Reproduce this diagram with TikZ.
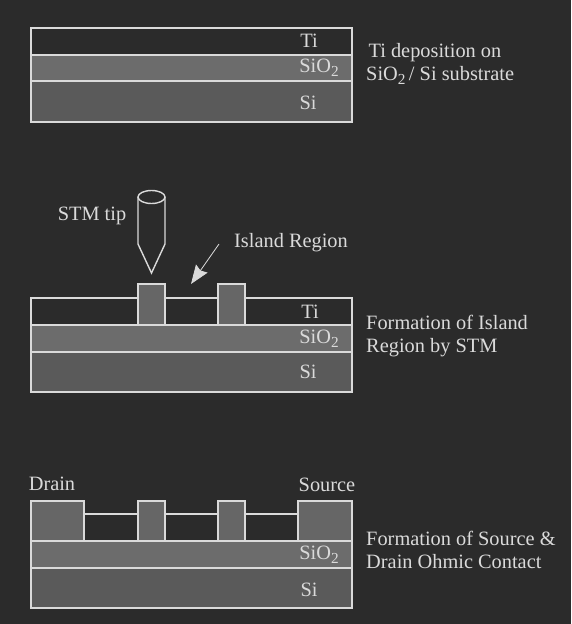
\documentclass[tikz,border=0pt]{standalone}
\usepackage{fontspec}
\setmainfont{Liberation Serif}
\usetikzlibrary{arrows.meta}
\definecolor{bgcol}{HTML}{2B2B2B}
\definecolor{linecol}{HTML}{DADADA}
\definecolor{oxidecol}{HTML}{6C6C6C}
\definecolor{sicol}{HTML}{5A5A5A}
\definecolor{padcol}{HTML}{666666}
\tikzset{
  layer/.style={draw=linecol, line width=1.2pt, inner sep=0pt},
  txt/.style={text=linecol, font=\fontsize{17.3}{19}\selectfont, inner sep=0pt},
  caption/.style={txt, align=left, anchor=west},
}
\newcommand{\oxide}{SiO\raisebox{-3.5pt}{\fontsize{13}{13}\selectfont 2}}
\begin{document}
\begin{tikzpicture}[x=0.85pt, y=-0.85pt]
  \fill[bgcol] (0,0) rectangle (571,624);
  \useasboundingbox (0,0) rectangle (571,624);

  % Ti deposition
  \draw[layer] (31,28) rectangle (352,55);
  \draw[layer, fill=oxidecol] (31,55) rectangle (352,81);
  \draw[layer, fill=sicol] (31,81) rectangle (352,122);
  \node[txt] (ti1) at (309,41) {Ti};
  \node[txt] (ox1) at (319,68) {\oxide};
  \node[txt] (si1) at (308,103) {Si};
  \node[caption] (cap1) at (366,64) {\hspace{2pt}Ti deposition on\\\oxide\,/ Si substrate};

  % Island region
  \draw[layer] (31,298) rectangle (352,325);
  \draw[layer, fill=oxidecol] (31,325) rectangle (352,352);
  \draw[layer, fill=sicol] (31,352) rectangle (352,392);
  \draw[layer, fill=padcol] (138,284) rectangle (165,325);
  \draw[layer, fill=padcol] (218,284) rectangle (245,325);
  \node[txt] (ti2) at (310,312) {Ti};
  \node[txt] (ox2) at (319,339) {\oxide};
  \node[txt] (si2) at (308,372) {Si};
  \node[caption] (cap2) at (366,336) {Formation of Island\\Region by STM};

  % STM tip
  \draw[layer] (138,197) -- (138,244) -- (151.5,273) -- (165,244) -- (165,197);
  \draw[layer] (151.5,197) ellipse (13.5 and 6.5);
  \node[txt] (tiplabel) at (92,216) {STM tip};
  \node[txt] (islandlabel) at (291,243) {Island Region};
  \coordinate (islandstart) at (219,244);
  \coordinate (islandend) at (191,284);
  \draw[linecol, line width=0.7pt, -{Stealth[length=16pt, width=12pt, inset=2pt]}] (islandstart) -- (islandend);

  % Source and drain
  \draw[layer] (31,514) -- (352,514);
  \draw[layer, fill=oxidecol] (31,541) rectangle (352,568);
  \draw[layer, fill=sicol] (31,568) rectangle (352,608);
  \draw[layer, fill=padcol] (31,501) rectangle (84,541);
  \draw[layer, fill=padcol] (298,501) rectangle (352,541);
  \draw[layer, fill=padcol] (138,501) rectangle (165,541);
  \draw[layer, fill=padcol] (218,501) rectangle (245,541);
  \node[txt] (drain) at (52,484) {Drain};
  \node[txt] (source) at (327,485) {Source};
  \node[txt] (ox3) at (319,555) {\oxide};
  \node[txt] (si3) at (309,590) {Si};
  \node[caption] (cap3) at (366,550) {Formation of Source \&\\Drain Ohmic Contact};
\end{tikzpicture}
\end{document}
